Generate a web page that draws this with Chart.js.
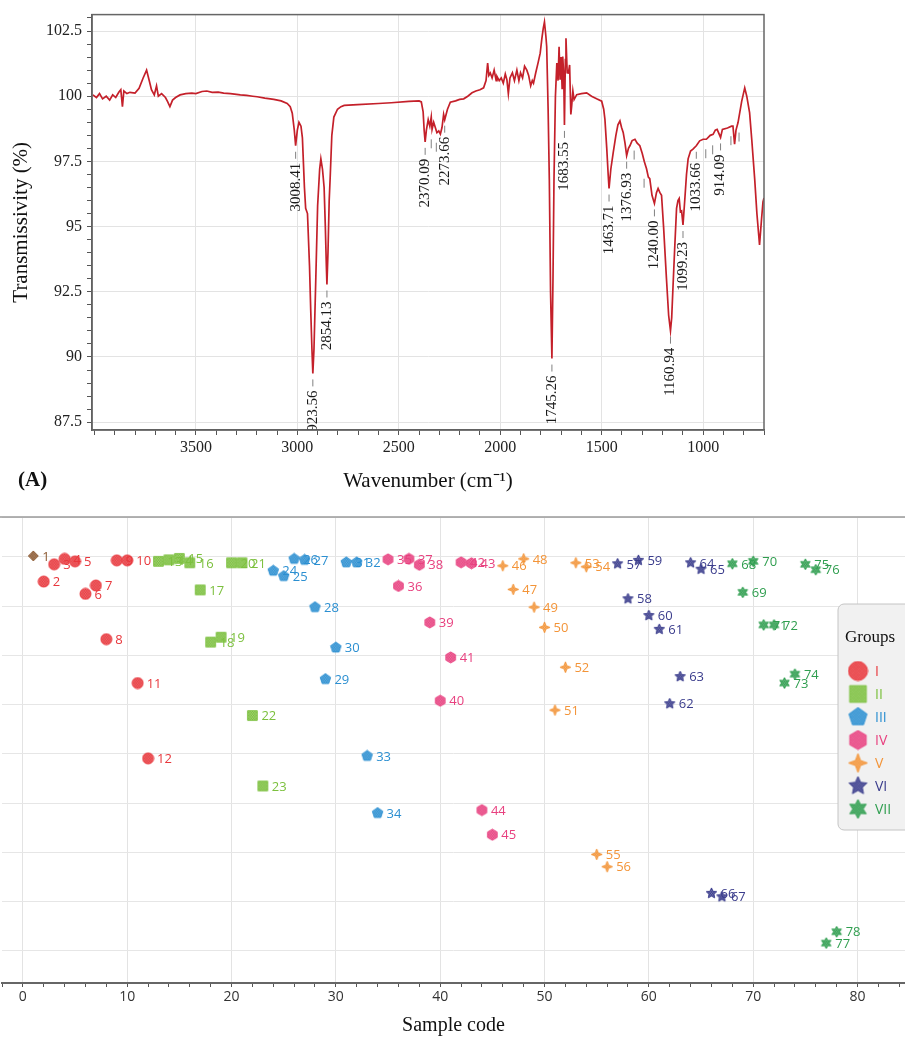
<!DOCTYPE html>
<html>
<head>
<meta charset="utf-8">
<script src="https://cdn.jsdelivr.net/npm/chart.js@4.4.1/dist/chart.umd.min.js"></script>
<style>
  html, body { margin: 0; padding: 0; background: #fff; }
  #wrap { position: relative; width: 905px; height: 1038px; overflow: hidden; }
  #ftir { position: absolute; left: 0; top: 0; }
  #score { position: absolute; left: 0; top: 505px; }
</style>
</head>
<body>
<div id="wrap">
  <canvas id="ftir" width="905" height="505"></canvas>
  <canvas id="score" width="905" height="533"></canvas>
</div>
<script>
// ---- (A) FTIR spectrum ----
const wavenumber = [
  4008, 3990, 3975, 3960, 3942, 3925, 3910, 3895, 3880, 3870, 3862, 3855, 3840, 3825, 3800,
  3780, 3760, 3743, 3730, 3719, 3705, 3694, 3685, 3669, 3650, 3640, 3628, 3615, 3600, 3578,
  3550, 3520, 3500, 3470, 3446, 3420, 3390, 3363, 3330, 3300, 3281, 3250, 3220, 3198, 3160,
  3116, 3080, 3050, 3035, 3025, 3015, 3008.41, 3000, 2992, 2982, 2975, 2965, 2959, 2950, 2940,
  2934, 2928, 2923.56, 2918, 2909, 2900, 2890, 2884, 2876, 2868, 2862, 2857, 2854.13, 2849, 2843,
  2838, 2830, 2820, 2802, 2785, 2769, 2703, 2600, 2537, 2450, 2400, 2389, 2380, 2375, 2370.09,
  2364, 2355, 2347, 2340, 2336, 2328, 2320, 2312, 2303, 2295, 2287, 2279, 2273.66, 2260, 2246,
  2220, 2200, 2180, 2160, 2139, 2120, 2100, 2082, 2070, 2062, 2056, 2049, 2040, 2030, 2020,
  2016, 2005, 1995, 1985, 1975, 1967, 1960, 1952, 1940, 1930, 1918, 1908, 1900, 1890, 1880,
  1869, 1860, 1850, 1842, 1836, 1825, 1813, 1803, 1795, 1788, 1782, 1775, 1771, 1764, 1758,
  1752, 1745.26, 1740, 1735, 1728, 1721, 1715, 1710, 1705, 1700, 1695, 1692, 1687, 1683.55, 1679,
  1676, 1670, 1664, 1658, 1652, 1648, 1642, 1636, 1623, 1600, 1574, 1550, 1525, 1500, 1490,
  1484, 1475, 1468, 1463.71, 1455, 1443, 1430, 1420, 1410, 1402, 1394, 1385, 1376.93, 1368, 1361,
  1350, 1336, 1325, 1312, 1300, 1290, 1279, 1270, 1263, 1252, 1240.00, 1230, 1222, 1213, 1205,
  1195, 1181, 1170, 1160.94, 1155, 1148, 1140, 1131, 1124, 1118, 1112, 1106, 1099.23, 1090, 1082,
  1074, 1062, 1050, 1033.66, 1017, 1000, 984, 965, 951, 940, 931, 914.09, 905, 880, 860,
  853, 845, 838, 828, 810, 795, 785, 771, 760, 746, 735, 722, 712, 705, 700
];
const transmissivity = [
  100.05, 99.95, 100.1, 99.9, 100.0, 99.85, 100.05, 99.95, 100.15, 100.25, 99.6, 100.2, 100.1, 100.15, 100.12,
  100.3, 100.7, 101.0, 100.6, 100.25, 100.05, 100.4, 100.0, 100.1, 99.95, 99.8, 99.6, 99.85, 99.95, 100.05,
  100.1, 100.12, 100.1, 100.18, 100.2, 100.15, 100.16, 100.12, 100.1, 100.07, 100.05, 100.03, 100.0, 99.98, 99.93,
  99.88, 99.82, 99.72, 99.6, 99.35, 98.7, 98.1, 98.7, 99.0, 98.85, 98.4, 96.5, 95.7, 95.5, 93.5,
  91.8, 90.3, 89.37, 90.3, 93.0, 95.8, 97.2, 97.6, 97.2, 96.5, 95.0, 93.5, 92.78, 94.0, 96.0,
  96.9, 98.5, 99.2, 99.5, 99.6, 99.65, 99.68, 99.72, 99.75, 99.8, 99.82, 99.78, 99.4, 98.7, 98.25,
  98.7, 99.1, 98.85, 99.2, 98.73, 99.0, 98.8, 98.6, 98.67, 98.55, 98.8, 99.3, 99.1, 99.5, 99.77,
  99.82, 99.88, 99.9, 100.0, 100.13, 100.2, 100.25, 100.32, 100.6, 101.27, 100.8, 100.89, 100.7, 101.0, 100.6,
  100.76, 100.6, 100.7, 100.5, 100.85, 100.63, 100.1, 100.7, 100.9, 100.6, 101.0, 100.6, 100.9, 100.7, 101.15,
  101.0, 100.8, 100.4, 100.6, 100.5, 100.9, 101.3, 101.65, 102.2, 102.6, 102.85, 102.3, 101.9, 99.5, 96.8,
  92.5, 89.94, 93.0, 96.84, 100.0, 101.27, 100.6, 101.9, 100.63, 101.5, 100.3, 101.52, 100.8, 98.9, 101.4,
  102.22, 100.9, 100.89, 101.2, 99.3, 99.62, 100.2, 99.87, 100.06, 100.1, 100.13, 100.0, 99.9, 99.81, 99.5,
  99.11, 98.0, 97.0, 96.46, 97.2, 97.85, 98.5, 98.9, 99.05, 98.8, 98.61, 98.2, 97.72, 98.0, 98.1,
  98.3, 98.35, 98.2, 98.1, 97.8, 97.5, 97.22, 96.9, 96.84, 96.2, 95.89, 96.3, 96.46, 96.3, 96.2,
  95.0, 93.04, 91.6, 91.01, 91.5, 92.78, 94.2, 95.7, 96.0, 96.08, 95.57, 95.6, 95.06, 96.08, 97.0,
  97.6, 97.9, 97.97, 98.1, 98.29, 98.35, 98.35, 98.5, 98.54, 98.7, 98.73, 98.42, 98.73, 98.78, 98.85,
  98.85, 98.16, 98.7, 98.99, 99.8, 100.32, 100.0, 99.37, 98.3, 96.84, 95.5, 94.3, 95.3, 95.95, 96.1
];
const peakLabels = ['3008.41', '2923.56', '2854.13', '2370.09', '2273.66', '1745.26', '1683.55',
  '1463.71', '1376.93', '1240.00', '1160.94', '1099.23', '1033.66', '914.09'];
const minorPeaks = [2340, 2315, 1340, 1291, 987, 953, 863, 823];

// ---- (B) sample scores by group ----
const groupNames = ['I', 'II', 'III', 'IV', 'V', 'VI', 'VII'];
const refSamples = [1];
const refScores = [9.02];
const samplesI = [2, 3, 4, 5, 6, 7, 8, 9, 10, 11, 12];
const scoresI = [8.50, 8.85, 8.96, 8.91, 8.25, 8.42, 7.33, 8.93, 8.93, 6.44, 4.91];
const samplesII = [13, 14, 15, 16, 17, 18, 19, 20, 21, 22, 23];
const scoresII = [8.91, 8.94, 8.97, 8.88, 8.33, 7.27, 7.37, 8.88, 8.88, 5.78, 4.35];
const samplesIII = [24, 25, 26, 27, 28, 29, 30, 31, 32, 33, 34];
const scoresIII = [8.72, 8.61, 8.96, 8.94, 7.98, 6.52, 7.16, 8.89, 8.89, 4.96, 3.80];
const samplesIV = [35, 36, 37, 38, 39, 40, 41, 42, 43, 44, 45];
const scoresIV = [8.95, 8.41, 8.96, 8.84, 7.67, 6.08, 6.96, 8.89, 8.87, 3.86, 3.36];
const samplesV = [46, 47, 48, 49, 50, 51, 52, 53, 54, 55, 56];
const scoresV = [8.82, 8.34, 8.96, 7.98, 7.57, 5.89, 6.76, 8.88, 8.80, 2.96, 2.71];
const samplesVI = [57, 58, 59, 60, 61, 62, 63, 64, 65, 66, 67];
const scoresVI = [8.86, 8.15, 8.93, 7.81, 7.53, 6.02, 6.57, 8.88, 8.75, 2.17, 2.10];
const samplesVII = [68, 69, 70, 71, 72, 73, 74, 75, 76, 77, 78];
const scoresVII = [8.86, 8.28, 8.91, 7.62, 7.62, 6.44, 6.62, 8.85, 8.74, 1.16, 1.39];

const groupSamples = [samplesI, samplesII, samplesIII, samplesIV, samplesV, samplesVI, samplesVII];
const groupScores = [scoresI, scoresII, scoresIII, scoresIV, scoresV, scoresVI, scoresVII];
const groupColors = ['#e8373c', '#7cc03e', '#2b8fd1', '#e8407f', '#f39438', '#3a3c8c', '#2f9e4f'];
const groupShapes = ['circle', 'square', 'pentagon', 'hexagon', 'star4', 'star5', 'star6'];

const SERIF = '"Liberation Serif", "Times New Roman", serif';
const SANS = '"Open Sans", "Noto Sans", sans-serif';

// ---------- markers ----------
function tracePath(g, shape, cx, cy, r) {
  if (shape === 'circle') { g.arc(cx, cy, r, 0, Math.PI * 2); return; }
  if (shape === 'square') { const h = r * 0.88; g.rect(cx - h, cy - h, 2 * h, 2 * h); return; }
  let n, inner;
  if (shape === 'pentagon') { n = 5; inner = null; }
  else if (shape === 'hexagon') { n = 6; inner = null; }
  else if (shape === 'diamond') { n = 4; inner = null; }
  else if (shape === 'star4') { n = 4; inner = 0.38; }
  else if (shape === 'star5') { n = 5; inner = 0.48; }
  else { n = 6; inner = 0.55; }
  const pts = inner ? n * 2 : n;
  for (let k = 0; k < pts; k++) {
    const a = -Math.PI / 2 + k * Math.PI * 2 / pts;
    const rr = inner && k % 2 ? r * inner : r;
    const px = cx + rr * Math.cos(a), py = cy + rr * Math.sin(a);
    if (k === 0) g.moveTo(px, py); else g.lineTo(px, py);
  }
  g.closePath();
}

function makeMarker(shape, color, size) {
  const c = document.createElement('canvas');
  c.width = c.height = size + 2;
  const g = c.getContext('2d');
  const m = (size + 2) / 2, r = size / 2;
  g.beginPath(); tracePath(g, shape, m, m, r);
  g.fillStyle = color; g.fill();
  g.save(); g.clip();
  g.strokeStyle = 'rgba(255,255,255,0.3)'; g.lineWidth = 0.6;
  for (let k = -size; k < size * 2; k += 2.4) {
    g.beginPath(); g.moveTo(k, 0); g.lineTo(k + size, size + 2); g.stroke();
    g.beginPath(); g.moveTo(k + size, 0); g.lineTo(k, size + 2); g.stroke();
  }
  g.restore();
  g.beginPath(); tracePath(g, shape, m, m, r);
  g.strokeStyle = color; g.lineWidth = 0.9; g.stroke();
  return c;
}

// ---------- chart A ----------
function localMin(w, win) {
  let best = Infinity;
  wavenumber.forEach((v, i) => { if (Math.abs(v - w) <= win) best = Math.min(best, transmissivity[i]); });
  return best;
}

const peakPlugin = {
  id: 'peaks',
  afterDatasetsDraw(chart) {
    const { ctx, chartArea: a, scales: { x, y } } = chart;
    ctx.save();
    ctx.beginPath(); ctx.rect(a.left, a.top, a.right - a.left, a.bottom - a.top); ctx.clip();
    ctx.font = '15px ' + SERIF;
    ctx.textAlign = 'right';
    ctx.textBaseline = 'middle';
    ctx.strokeStyle = '#808080';
    ctx.lineWidth = 1;
    peakLabels.forEach(lbl => {
      const w = parseFloat(lbl);
      const px = x.getPixelForValue(w), py = y.getPixelForValue(localMin(w, 3));
      ctx.beginPath(); ctx.moveTo(px, py + 6); ctx.lineTo(px, py + 13); ctx.stroke();
      ctx.save();
      ctx.translate(px, py + 17);
      ctx.rotate(-Math.PI / 2);
      ctx.fillStyle = '#1a1a1a';
      ctx.fillText(lbl, 0, 0);
      ctx.restore();
    });
    minorPeaks.forEach(w => {
      const px = x.getPixelForValue(w), py = y.getPixelForValue(localMin(w, 12));
      ctx.beginPath(); ctx.moveTo(px, py + 10); ctx.lineTo(px, py + 19); ctx.stroke();
    });
    ctx.restore();
  },
  afterDraw(chart) {
    const { ctx, chartArea: a } = chart;
    ctx.save();
    ctx.strokeStyle = '#666';
    ctx.lineWidth = 1.5;
    ctx.strokeRect(a.left, a.top, a.right - a.left, a.bottom - a.top);
    ctx.font = 'bold 21px ' + SERIF;
    ctx.fillStyle = '#111';
    ctx.textAlign = 'left';
    ctx.textBaseline = 'middle';
    ctx.fillText('(A)', 18, 481);
    ctx.restore();
  }
};

const isMult = (v, s) => Math.abs(v / s - Math.round(v / s)) < 1e-6;

new Chart(document.getElementById('ftir'), {
  type: 'line',
  data: {
    datasets: [{
      data: wavenumber.map((w, i) => ({ x: w, y: transmissivity[i] })),
      borderColor: '#c4202a',
      borderWidth: 1.7,
      pointRadius: 0,
      tension: 0
    }]
  },
  options: {
    responsive: false,
    animation: false,
    layout: { padding: { top: 12, right: 141, left: 0, bottom: 0 }, autoPadding: false },
    plugins: { legend: { display: false }, tooltip: { enabled: false } },
    scales: {
      x: {
        type: 'linear', reverse: true, min: 700, max: 4012,
        ticks: {
          stepSize: 100, includeBounds: false, autoSkip: false, maxRotation: 0, padding: 3,
          color: '#222', font: { family: SERIF, size: 16 },
          callback: v => (isMult(v, 500) && v >= 1000 && v <= 3500) ? v : ''
        },
        grid: {
          color: c => (c.tick && isMult(c.tick.value, 500) && c.tick.value <= 3500) ? '#e3e3e3' : 'rgba(0,0,0,0)',
          tickColor: '#555', tickLength: 5
        },
        border: { color: '#555', width: 1.5 },
        title: { display: true, text: 'Wavenumber (cm⁻¹)', color: '#111', font: { family: SERIF, size: 21 }, padding: 11 },
        afterFit: s => { s.height = 75; }
      },
      y: {
        min: 87.2, max: 103.13,
        ticks: {
          stepSize: 0.5, includeBounds: false, autoSkip: false, padding: 5,
          color: '#222', font: { family: SERIF, size: 16 },
          callback: v => isMult(v, 2.5) ? v : ''
        },
        grid: {
          color: c => (c.tick && isMult(c.tick.value, 2.5)) ? '#e3e3e3' : 'rgba(0,0,0,0)',
          tickColor: '#555', tickLength: 5
        },
        border: { color: '#555', width: 1.5 },
        title: { display: true, text: 'Transmissivity (%)', color: '#111', font: { family: SERIF, size: 21 }, padding: 9 },
        afterFit: s => { s.width = 92; }
      }
    }
  },
  plugins: [peakPlugin]
});

// ---------- chart B ----------
const scoreDatasets = [{
  label: 'ref',
  data: refSamples.map((s, i) => ({ x: s, y: refScores[i] })),
  pointStyle: makeMarker('diamond', '#8c5a32', 10),
  labelColor: '#8c5a32'
}];
groupNames.forEach((name, g) => {
  scoreDatasets.push({
    label: name,
    data: groupSamples[g].map((s, i) => ({ x: s, y: groupScores[g][i] })),
    pointStyle: makeMarker(groupShapes[g], groupColors[g], 11),
    labelColor: groupColors[g]
  });
});

const scorePlugin = {
  id: 'scoreDeco',
  afterDatasetsDraw(chart) {
    const { ctx } = chart;
    ctx.save();
    ctx.font = '13px ' + SANS;
    ctx.textAlign = 'left';
    ctx.textBaseline = 'middle';
    chart.data.datasets.forEach((ds, i) => {
      const meta = chart.getDatasetMeta(i);
      ctx.fillStyle = ds.labelColor;
      meta.data.forEach((pt, j) => ctx.fillText(String(ds.data[j].x), pt.x + 9, pt.y + 1));
    });
    ctx.restore();
  },
  afterDraw(chart) {
    const { ctx, chartArea: a } = chart;
    ctx.save();
    ctx.strokeStyle = '#9a9a9a';
    ctx.lineWidth = 1.5;
    ctx.beginPath(); ctx.moveTo(0, a.top); ctx.lineTo(chart.width, a.top); ctx.stroke();
    // legend box
    const bx = 838, by = 99, bw = 90, bh = 226;
    ctx.beginPath();
    ctx.roundRect(bx, by, bw, bh, 6);
    ctx.fillStyle = '#f1f1f1';
    ctx.fill();
    ctx.strokeStyle = '#c4c4c4';
    ctx.lineWidth = 1;
    ctx.stroke();
    ctx.fillStyle = '#111';
    ctx.font = '17px ' + SERIF;
    ctx.textAlign = 'left';
    ctx.textBaseline = 'middle';
    ctx.fillText('Groups', 845, 133);
    ctx.font = '14px ' + SANS;
    groupNames.forEach((name, g) => {
      const yy = 166 + g * 23;
      const img = makeMarker(groupShapes[g], groupColors[g], 19);
      ctx.drawImage(img, 858 - img.width / 2, yy - img.height / 2);
      ctx.fillStyle = groupColors[g];
      ctx.fillText(name, 875, yy + 1);
    });
    ctx.restore();
  }
};

new Chart(document.getElementById('score'), {
  type: 'scatter',
  data: { datasets: scoreDatasets },
  options: {
    responsive: false,
    animation: false,
    layout: { padding: { top: 12, right: 0, left: 0, bottom: 0 }, autoPadding: false },
    plugins: { legend: { display: false }, tooltip: { enabled: false } },
    scales: {
      x: {
        type: 'linear', min: -2.01, max: 84.55,
        ticks: {
          stepSize: 2, includeBounds: false, autoSkip: false, maxRotation: 0, padding: 2,
          color: '#333', font: { family: SANS, size: 14 },
          callback: v => isMult(v, 10) ? v : ''
        },
        grid: {
          color: c => (c.tick && isMult(c.tick.value, 10)) ? '#e3e3e3' : 'rgba(0,0,0,0)',
          tickColor: '#555', tickLength: 4
        },
        border: { color: '#666', width: 2 },
        title: { display: true, text: 'Sample code', color: '#111', font: { family: SERIF, size: 20 }, padding: 0 },
        afterFit: s => { s.height = 55; }
      },
      y: {
        min: 0.35, max: 9.81,
        ticks: { display: false, stepSize: 1 },
        grid: { color: '#e6e6e6', drawTicks: false },
        border: { display: false },
        afterFit: s => { s.width = 0; }
      }
    }
  },
  plugins: [scorePlugin]
});
</script>
</body>
</html>
